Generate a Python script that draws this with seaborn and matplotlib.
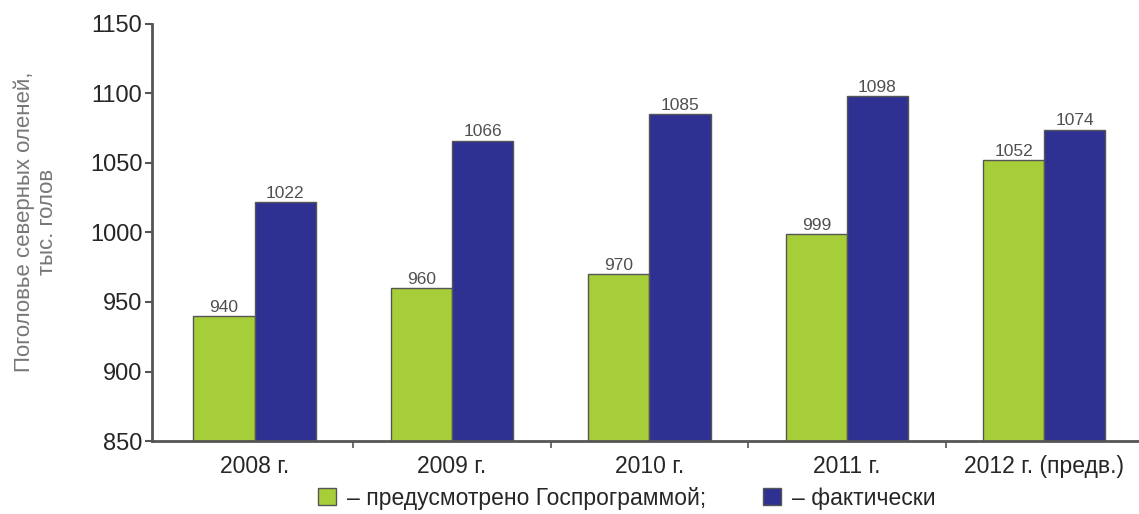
import pandas as pd
import matplotlib
matplotlib.use("Agg")
import matplotlib.pyplot as plt
import seaborn as sns
from matplotlib.patches import Patch

years = ["2008 г.", "2009 г.", "2010 г.", "2011 г.", "2012 г. (предв.)"]
planned = [940, 960, 970, 999, 1052]
actual = [1022, 1066, 1085, 1098, 1074]
series_names = ["– предусмотрено Госпрограммой;", "– фактически"]
colors = ["#a6ce39", "#2e3192"]

df = pd.DataFrame({
    "year": years * 2,
    "value": planned + actual,
    "series": [series_names[0]] * len(years) + [series_names[1]] * len(years),
})

sns.set_style("white")
plt.rcParams["font.family"] = ["Liberation Sans", "DejaVu Sans"]

fig = plt.figure(figsize=(11.39, 5.14), dpi=100)
ax = fig.add_axes([152 / 1139, 1 - 441 / 514, 1 - 152 / 1139, (441 - 24) / 514])

sns.barplot(data=df, x="year", y="value", hue="series", hue_order=series_names,
            palette=colors, saturation=1, width=0.62, edgecolor="#555555",
            linewidth=1, legend=False, ax=ax)

for cont in ax.containers:
    ax.bar_label(cont, padding=1, fontsize=12.5, color="#505050")

ax.set_ylim(850, 1150)
ax.set_xlim(-0.52, 4.48)
ax.set_yticks([850, 900, 950, 1000, 1050, 1100, 1150])
ax.set_xlabel("")
ax.set_ylabel("")
ax.tick_params(axis="y", labelsize=17, length=5, width=1.5, color="#555555",
               left=True, pad=2)
ax.tick_params(axis="x", which="major", labelsize=16.5, length=0, pad=10)
ax.set_xticks([0.5, 1.5, 2.5, 3.5], minor=True)
ax.tick_params(axis="x", which="minor", length=5, width=1.2, color="#555555",
               bottom=True)
for s in ["top", "right"]:
    ax.spines[s].set_visible(False)
for s in ["left", "bottom"]:
    ax.spines[s].set_color("#555555")
    ax.spines[s].set_linewidth(2)

fig.text(36 / 1139, 1 - 222 / 514, "Поголовье северных оленей,\nтыс. голов",
         rotation=90, ha="center", va="center", multialignment="center",
         fontsize=16, color="#777777", linespacing=1.15)

handles = [Patch(facecolor=c, edgecolor="#555555", linewidth=1) for c in colors]
fig.legend(handles, series_names, loc="center", bbox_to_anchor=(627 / 1139, 1 - 498 / 514),
           ncol=2, frameon=False, fontsize=16.5, handlelength=0.75, handleheight=0.75,
           handletextpad=0.5, columnspacing=2.5)

fig.savefig("out.png", dpi=100)
